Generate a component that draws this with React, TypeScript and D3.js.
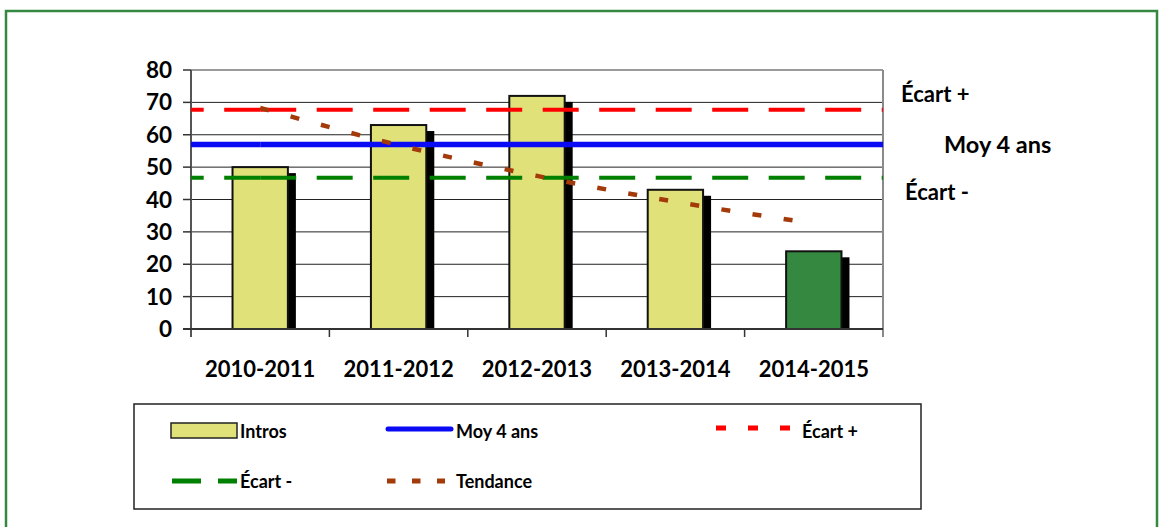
import React from 'react'
import * as d3 from 'd3'

const seasons = ['2010-2011', '2011-2012', '2012-2013', '2013-2014', '2014-2015']
const intros = [50, 63, 72, 43, 24]
// trend read at each season centre
const tendance = [68.3, 56.8, 47.3, 39.3, 32.6]
const moy4ans = 57
const ecartPlus = 67.7
const ecartMinus = 46.7
const yTicks = [0, 10, 20, 30, 40, 50, 60, 70, 80]

const font = 'Lato, "Open Sans", sans-serif'
const barFill = '#E1E17A'
const lastFill = '#358840'
const trendColor = '#A33A0A'

const App: React.FunctionComponent = () => {
  const width = 1161
  const height = 527
  const plot = { left: 191, right: 883, top: 70, bottom: 329 }

  const xScale = d3
    .scaleBand<string>()
    .domain(seasons)
    .range([plot.left, plot.right])
    .paddingInner(0)
    .paddingOuter(0)
  const band = xScale.bandwidth()
  const barW = band * 0.4
  const center = (s: string) => (xScale(s) || 0) + band / 2

  const yScale = d3.scaleLinear().domain([0, 80]).range([plot.bottom, plot.top])

  const line = d3
    .line<[number, number]>()
    .x(d => d[0])
    .y(d => yScale(d[1]))

  const trendLine = d3
    .line<number>()
    .x((_, i) => center(seasons[i]))
    .y(d => yScale(d))
    .curve(d3.curveMonotoneX)

  // the dash pattern starts at the first season, going out both ways
  const c0 = center(seasons[0])
  const flatLine = (v: number, color: string, w: number, dash?: string) => (
    <g>
      <path d={line([[c0, v], [plot.right, v]]) || ''} stroke={color} strokeWidth={w} strokeDasharray={dash} fill="none" />
      <path d={line([[c0, v], [plot.left, v]]) || ''} stroke={color} strokeWidth={w} strokeDasharray={dash} fill="none" />
    </g>
  )

  const lx = 134
  const ly = 404
  const row1 = 429
  const row2 = 481

  return (
    <svg width={width} height={height} style={{ position: 'absolute', left: 0, top: 0 }}>
      <rect x={0} y={0} width={width} height={height} fill="#fff" />
      <path d={`M6,${height}V11H1157V${height}`} fill="none" stroke="#358840" strokeWidth={2.5} />

      {/* grid */}
      {yTicks.filter(t => t > 0 && t < 80).map(t => (
        <line key={t} x1={plot.left} x2={plot.right} y1={yScale(t)} y2={yScale(t)} stroke="#222" strokeWidth={1} />
      ))}
      <line x1={plot.left} x2={plot.right} y1={yScale(80)} y2={yScale(80)} stroke="#9a9a9a" strokeWidth={2} />
      <line x1={plot.right} x2={plot.right} y1={plot.top} y2={plot.bottom + 8} stroke="#8a8a8a" strokeWidth={2} />

      {/* bars */}
      {intros.map((v, i) => (
        <rect
          key={'s' + i}
          x={center(seasons[i]) - barW / 2 + 8}
          y={yScale(v) + 6}
          width={barW}
          height={plot.bottom - yScale(v) - 6}
          fill="#000"
        />
      ))}
      {intros.map((v, i) => (
        <rect
          key={'b' + i}
          x={center(seasons[i]) - barW / 2}
          y={yScale(v)}
          width={barW}
          height={plot.bottom - yScale(v)}
          fill={i === intros.length - 1 ? lastFill : barFill}
          stroke="#111"
          strokeWidth={2}
        />
      ))}

      {/* axes */}
      <line x1={plot.left} x2={plot.left} y1={plot.top} y2={plot.bottom + 8} stroke="#555" strokeWidth={2} />
      <line x1={plot.left - 8} x2={plot.right} y1={plot.bottom} y2={plot.bottom} stroke="#333" strokeWidth={2} />
      {yTicks.map(t => (
        <g key={t}>
          <line x1={plot.left - 8} x2={plot.left} y1={yScale(t)} y2={yScale(t)} stroke="#333" strokeWidth={1.5} />
          <text x={172} y={yScale(t) + 8} textAnchor="end" fontFamily={font} fontWeight="bold" fontSize={22.5} fill="#000">
            {t}
          </text>
        </g>
      ))}
      {seasons.slice(1).map(s => (
        <line key={s} x1={xScale(s)} x2={xScale(s)} y1={plot.bottom} y2={plot.bottom + 8} stroke="#333" strokeWidth={1.5} />
      ))}
      {seasons.map(s => (
        <text key={s} x={center(s)} y={377} textAnchor="middle" fontFamily={font} fontWeight="bold" fontSize={22} fill="#000">
          {s}
        </text>
      ))}

      {/* reference lines */}
      {flatLine(ecartPlus, '#FF0000', 4, '36,20.5')}
      {flatLine(moy4ans, '#0A0AF5', 5.5)}
      {flatLine(ecartMinus, '#008000', 4, '36,20.5')}
      <path d={trendLine(tendance) || ''} stroke={trendColor} strokeWidth={4.5} strokeDasharray="9,22.5" fill="none" />

      {/* right labels */}
      <g fontFamily={font} fontWeight="bold" fontSize={22} fill="#000">
        <text x={901} y={102}>Écart +</text>
        <text x={944} y={153} fontSize={23.5}>Moy 4 ans</text>
        <text x={905} y={200}>Écart -</text>
      </g>

      {/* legend */}
      <rect x={lx} y={ly} width={921 - lx} height={105} fill="#fff" stroke="#222" strokeWidth={1.5} />
      <rect x={171} y={row1 - 6} width={66} height={15} fill={barFill} stroke="#222" strokeWidth={1.5} />
      <line x1={388} x2={451} y1={row1} y2={row1} stroke="#0A0AF5" strokeWidth={5} strokeLinecap="round" />
      <line x1={716} x2={790} y1={row1 - 1} y2={row1 - 1} stroke="#FF0000" strokeWidth={5} strokeDasharray="10,22" />
      <line x1={172} x2={237} y1={row2} y2={row2} stroke="#008000" strokeWidth={5} strokeDasharray="29,17" />
      <line x1={387} x2={445} y1={row2} y2={row2} stroke={trendColor} strokeWidth={5} strokeDasharray="8.5,16.5" />
      <g fontFamily={font} fontWeight="bold" fontSize={18} fill="#000">
        <text x={240} y={438}>Intros</text>
        <text x={456} y={438}>Moy 4 ans</text>
        <text x={802} y={438}>Écart +</text>
        <text x={240} y={488}>Écart -</text>
        <text x={456} y={488}>Tendance</text>
      </g>
    </svg>
  )
}

export default App
